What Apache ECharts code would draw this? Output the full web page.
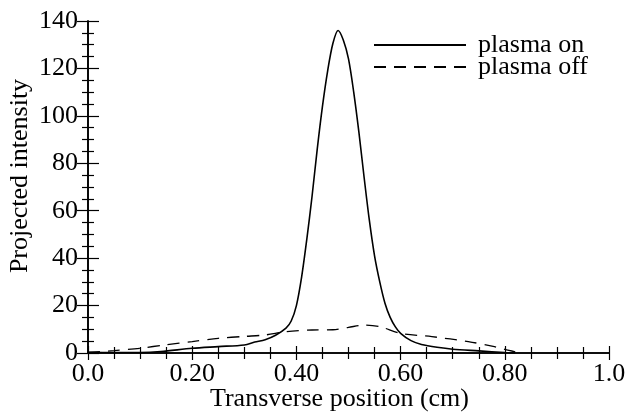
<!DOCTYPE html>
<html><head><meta charset="utf-8">
<script src="https://cdn.jsdelivr.net/npm/echarts@6/dist/echarts.min.js"></script>
<style>html,body{margin:0;padding:0;background:#fff}#c{width:629px;height:417px}</style>
</head><body><div id="c"></div>
<script>
const onX = [0.00,0.05,0.10,0.14,0.20,0.25,0.30,0.32,0.34,0.36,0.38,0.39,0.40,0.41,0.42,0.43,0.44,0.45,0.46,0.47,0.48,0.49,0.50,0.51,0.52,0.53,0.54,0.55,0.56,0.57,0.58,0.59,0.60,0.62,0.64,0.67,0.70,0.75,0.80,0.82];
const onY = [0.3,0.2,0.2,0.6,2.0,2.7,3.4,4.6,5.6,7.5,10.5,13.5,20,32,48,66,86,104,119,130.5,136,132,124,110,93,74,56,41,30,21,15,11,8.3,5.2,3.6,2.4,1.6,0.9,0.2,0.0];
const offX = [0.00,0.05,0.10,0.15,0.20,0.25,0.30,0.34,0.38,0.43,0.47,0.50,0.53,0.56,0.60,0.66,0.73,0.78,0.80,0.82];
const offY = [0.3,1.0,2.0,3.5,4.8,6.2,7.0,7.6,9.0,9.7,9.8,10.8,11.8,11.1,8.3,6.9,4.8,2.7,1.5,0.5];
const xTicks = ['0.0','0.20','0.40','0.60','0.80','1.0'];
const yTicks = [0,20,40,60,80,100,120,140];

const font = 'Liberation Serif';
const fs = 26;
const pair = (xs, ys) => xs.map((x, i) => [x, ys[i]]);
const xLabel = v => { const i = Math.round(v / 0.2); return Math.abs(v - i * 0.2) < 1e-6 ? xTicks[i] : ''; };
const axisStyle = (major, minor) => ({
  axisLine: {show: true, lineStyle: {color: '#000', width: 1.6}},
  axisTick: {show: true, inside: true, length: major, lineStyle: {color: '#000', width: 1.2}},
  minorTick: {show: true, splitNumber: 4, length: minor, lineStyle: {color: '#000', width: 1.2}},
  splitLine: {show: false}
});
const chart = echarts.init(document.getElementById('c'), null, {renderer: 'canvas'});
chart.setOption({
  animation: false,
  backgroundColor: '#fff',
  grid: {left: 88, right: 20, top: 21, bottom: 64, containLabel: false, outerBoundsMode: 'none'},
  xAxis: [
    Object.assign({type: 'value', min: 0, max: 1, interval: 0.2, position: 'bottom',
      name: 'Transverse position (cm)', nameLocation: 'middle', nameGap: 33, nameMoveOverlap: false,
      nameTextStyle: {fontFamily: font, fontSize: fs, color: '#000', padding: [0, 18, 0, 0]},
      axisLabel: {formatter: xLabel, fontFamily: font, fontSize: fs, color: '#000', margin: 8}}, axisStyle(7, 6)),
    Object.assign({type: 'value', min: 0, max: 1, interval: 0.2, position: 'top',
      axisLabel: {show: false}}, axisStyle(7, 6))
  ],
  yAxis: [
    Object.assign({type: 'value', min: 0, max: 140, interval: 20, position: 'left',
      name: 'Projected intensity', nameLocation: 'middle', nameGap: 55, nameMoveOverlap: false,
      nameTextStyle: {fontFamily: font, fontSize: fs, color: '#000', padding: [0, 0, 0, 22]},
      axisLabel: {formatter: v => yTicks.includes(v) ? String(v) : '', fontFamily: font, fontSize: fs, color: '#000', margin: 10}}, axisStyle(11, 6)),
    Object.assign({type: 'value', min: 0, max: 140, interval: 20, position: 'right',
      axisLabel: {show: false}}, axisStyle(11, 6))
  ],
  legend: {
    orient: 'vertical', left: 368, top: 27, itemWidth: 92, itemHeight: 14, itemGap: -4,
    itemStyle: {opacity: 0},
    textStyle: {fontFamily: font, fontSize: fs, color: '#000', padding: [0, 0, 0, 7]},
    data: [{name: 'plasma on'}, {name: 'plasma off'}]
  },
  series: [
    {name: 'plasma on', type: 'line', data: pair(onX, onY), symbol: 'none', smooth: 0.3,
      lineStyle: {color: '#000', width: 1.6, type: 'solid'}, itemStyle: {color: '#000'}},
    {name: 'plasma off', type: 'line', data: pair(offX, offY), symbol: 'none', smooth: 0.3,
      lineStyle: {color: '#000', width: 1.3, type: [12, 8]}, itemStyle: {color: '#000'}}
  ]
});
</script></body></html>
